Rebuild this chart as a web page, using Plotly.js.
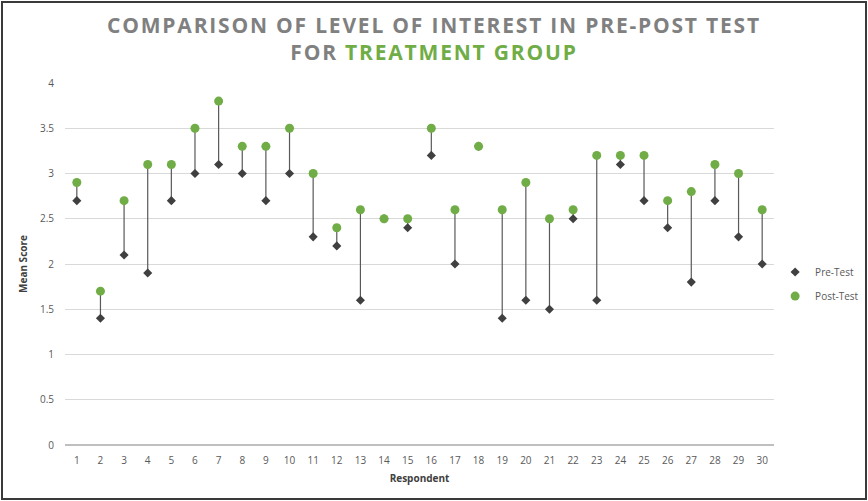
<!DOCTYPE html>
<html>
<head>
<meta charset="utf-8">
<script src="https://cdn.plot.ly/plotly-3.0.1.min.js"></script>
<style>
html,body{margin:0;padding:0;background:#fff;}
#wrap{position:relative;width:868px;height:501px;}
#chart{width:868px;height:501px;}
#frame{position:absolute;left:1px;top:1px;width:862px;height:495px;border:2px solid #3a3a3a;pointer-events:none;}
.gtitle{letter-spacing:1.8px;}
</style>
</head>
<body>
<div id="wrap"><div id="chart"></div><div id="frame"></div></div>
<script>
const respondents = [1,2,3,4,5,6,7,8,9,10,11,12,13,14,15,16,17,18,19,20,21,22,23,24,25,26,27,28,29,30];
const preTest  = [2.7,1.4,2.1,1.9,2.7,3.0,3.1,3.0,2.7,3.0,2.3,2.2,1.6,2.5,2.4,3.2,2.0,3.3,1.4,1.6,1.5,2.5,1.6,3.1,2.7,2.4,1.8,2.7,2.3,2.0];
const postTest = [2.9,1.7,2.7,3.1,3.1,3.5,3.8,3.3,3.3,3.5,3.0,2.4,2.6,2.5,2.5,3.5,2.6,3.3,2.6,2.9,2.5,2.6,3.2,3.2,3.2,2.7,2.8,3.1,3.0,2.6];
const yTicks = [0,0.5,1,1.5,2,2.5,3,3.5,4];

const diff = postTest.map((v,i)=>v-preTest[i]);

const pre = {
  x: respondents, y: preTest, name: 'Pre-Test', type: 'scatter', mode: 'markers', legendgroup: 'pre',
  marker: {symbol: 'diamond', color: '#404040', size: 7},
  error_y: {type: 'data', symmetric: false, array: diff, arrayminus: diff.map(()=>0), width: 0, thickness: 1.2, color: '#595959'}
};
const post = {
  x: respondents, y: postTest, name: 'Post-Test', type: 'scatter', mode: 'markers', legendgroup: 'post',
  marker: {symbol: 'circle', color: '#70ad47', size: 9}
};

const layout = {
  width: 868, height: 501,
  margin: {l: 65, r: 94, t: 83, b: 56},
  paper_bgcolor: '#ffffff', plot_bgcolor: '#ffffff',
  font: {family: 'Open Sans, Liberation Sans, sans-serif', color: '#595959', size: 10},
  title: {
    text: 'COMPARISON OF LEVEL OF INTEREST IN PRE-POST TEST<br>FOR <span style="color:#70ad47">TREATMENT GROUP</span>',
    x: 0.5, xref: 'container', xanchor: 'center', y: 0.934, yref: 'container', yanchor: 'top',
    font: {family: 'Open Sans, sans-serif', size: 21, color: '#808080', weight: 'bold'}
  },
  xaxis: {
    type: 'linear', range: [0.5, 30.5], tickmode: 'array', tickvals: respondents, ticktext: respondents.map(String),
    showgrid: false, zeroline: false, showline: false,
    ticks: 'outside', ticklen: 6, tickcolor: 'rgba(0,0,0,0)',
    tickfont: {size: 10, color: '#595959'},
    title: {text: 'Respondent', font: {size: 10, color: '#404040', weight: 'bold'}, standoff: 8}
  },
  yaxis: {
    range: [0, 4], tickmode: 'array', tickvals: yTicks, ticktext: yTicks.map(String),
    showgrid: true, gridcolor: '#d9d9d9', gridwidth: 1,
    zeroline: true, zerolinecolor: '#bfbfbf', zerolinewidth: 2,
    showline: false, ticks: 'outside', ticklen: 8, tickcolor: 'rgba(0,0,0,0)',
    tickfont: {size: 10, color: '#595959'},
    title: {text: 'Mean Score', font: {size: 10, color: '#404040', weight: 'bold'}, standoff: 10}
  },
  legend: {
    xref: 'container', yref: 'container',
    x: 0.893, xanchor: 'left', y: 0.433, yanchor: 'middle',
    font: {size: 10, color: '#595959'}, tracegroupgap: 5, itemwidth: 30, traceorder: 'grouped'
  },
  showlegend: true
};

Plotly.newPlot('chart', [pre, post], layout, {displayModeBar: false, staticPlot: true});
</script>
</body>
</html>
